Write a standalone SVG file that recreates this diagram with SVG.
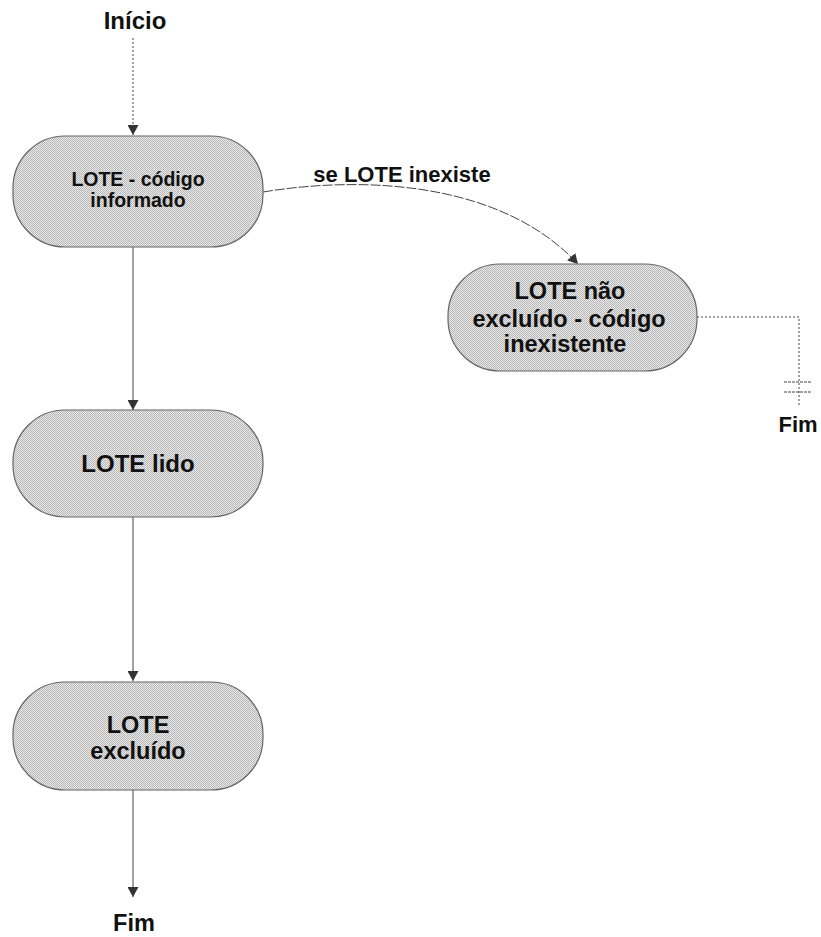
<svg xmlns="http://www.w3.org/2000/svg" width="821" height="937" viewBox="0 0 821 937">
  <defs>
    <pattern id="stipple" width="2" height="2" patternUnits="userSpaceOnUse">
      <rect width="2" height="2" fill="#e8e8e8"/>
      <rect width="1" height="1" fill="#b8b8b8"/>
      <rect x="1" y="1" width="1" height="1" fill="#b8b8b8"/>
    </pattern>
    <marker id="arrow" viewBox="0 0 10 11" refX="10" refY="5.5" markerWidth="10" markerHeight="11" markerUnits="userSpaceOnUse" orient="auto">
      <path d="M0,0 L10,5.5 L0,11 Z" fill="#333"/>
    </marker>
  </defs>
  <style>
    .node { fill: url(#stipple); stroke: #666; stroke-width: 1.2; }
    .lbl { font-family: "Liberation Sans", Arial, sans-serif; font-weight: bold; fill: #111; text-anchor: middle; }
    .conn { fill: none; stroke: #444; stroke-width: 1; }
    .dot { stroke-dasharray: 2 2; }
    .dash { stroke-dasharray: 10 2; }
  </style>
  <rect width="821" height="937" fill="#fff"/>

  <g id="connectors">
    <line class="conn dot" x1="133" y1="38" x2="133" y2="135" marker-end="url(#arrow)"/>
    <line class="conn" x1="133" y1="247" x2="133" y2="410" marker-end="url(#arrow)"/>
    <line class="conn" x1="133" y1="517" x2="133" y2="681" marker-end="url(#arrow)"/>
    <line class="conn" x1="133" y1="790" x2="133" y2="897" marker-end="url(#arrow)"/>
    <path class="conn dash" d="M263,192 C360,176 500,180 578,264" marker-end="url(#arrow)"/>
    <polyline class="conn dot" points="697,317 799,317 799,405"/>
    <line class="conn" stroke="#777" x1="784" y1="382" x2="812" y2="382" style="stroke-dasharray:3 1"/>
    <line class="conn" stroke="#777" x1="784" y1="392" x2="812" y2="392" style="stroke-dasharray:3 1"/>
    <text class="lbl" x="402" y="182" font-size="22">se LOTE inexiste</text>
  </g>

  <g id="inicio">
    <text class="lbl" x="135" y="29" font-size="24">Início</text>
  </g>

  <g id="node-lote-codigo">
    <rect class="node" x="13" y="136" width="250" height="111" rx="52" ry="52"/>
    <text class="lbl" x="138" y="186" font-size="19.5">LOTE - código</text>
    <text class="lbl" x="138" y="207" font-size="19.5">informado</text>
  </g>

  <g id="node-lote-lido">
    <rect class="node" x="13" y="410" width="250" height="107" rx="52" ry="52"/>
    <text class="lbl" x="138" y="472" font-size="24">LOTE lido</text>
  </g>

  <g id="node-lote-excluido">
    <rect class="node" x="13" y="682" width="250" height="108" rx="52" ry="52"/>
    <text class="lbl" x="138" y="733" font-size="23.5">LOTE</text>
    <text class="lbl" x="138" y="759" font-size="23.5">excluído</text>
  </g>

  <g id="fim-bottom">
    <text class="lbl" x="134" y="931" font-size="23.5">Fim</text>
  </g>

  <g id="node-lote-nao-excluido">
    <rect class="node" x="448" y="264" width="249" height="107" rx="52" ry="52"/>
    <text class="lbl" x="570" y="299" font-size="23.5">LOTE não</text>
    <text class="lbl" x="569" y="327" font-size="23.5">excluído - código</text>
    <text class="lbl" x="565" y="352" font-size="23.5">inexistente</text>
  </g>

  <g id="fim-right">
    <text class="lbl" x="798" y="432" font-size="22">Fim</text>
  </g>
</svg>
